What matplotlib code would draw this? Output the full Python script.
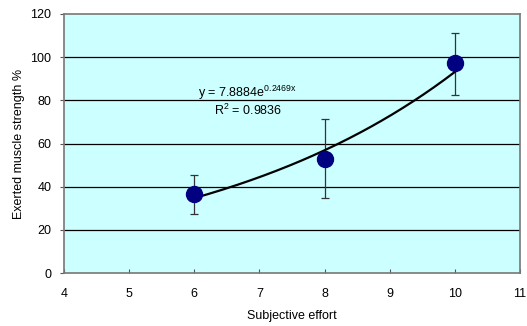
import numpy as np
import matplotlib
matplotlib.use("Agg")
import matplotlib.pyplot as plt

plt.rcParams['font.family'] = ['Liberation Sans', 'DejaVu Sans']
plt.rcParams['mathtext.fontset'] = 'custom'
plt.rcParams['mathtext.rm'] = 'Liberation Sans'

effort = [6, 8, 10]
strength = [36.5, 53.0, 97.2]
err_low = [27.2, 34.6, 82.5]
err_high = [45.3, 71.2, 111.0]
fit_a = 7.8884
fit_b = 0.2469
xticks = [4, 5, 6, 7, 8, 9, 10, 11]
yticks = [0, 20, 40, 60, 80, 100, 120]

fig = plt.figure(figsize=(5.27, 3.26), dpi=100)
ax = fig.add_axes([64/527, 1 - 273/326, (520-64)/527, (273-14)/326])
ax.set_facecolor('#CCFFFF')

for y in yticks[1:-1]:
    ax.axhline(y, color='black', lw=0.9, zorder=1)

yerr = [np.array(strength) - np.array(err_low), np.array(err_high) - np.array(strength)]
ax.errorbar(effort, strength, yerr=yerr, fmt='none', ecolor='#333333', elinewidth=0.9,
            capsize=3, capthick=0.9, zorder=2)

xf = np.linspace(effort[0], effort[-1], 200)
ax.plot(xf, fit_a * np.exp(fit_b * xf), color='black', lw=1.6, zorder=3)

ax.plot(effort, strength, 'o', color='#000080', markersize=11.5, zorder=4)

ax.set_xlim(4, 11)
ax.set_ylim(0, 120)
ax.set_xticks(xticks)
ax.set_yticks(yticks)
ax.tick_params(axis='x', direction='in', length=3, labelsize=9, pad=11, color='#555555')
ax.tick_params(axis='y', direction='out', length=3, labelsize=9, pad=6, color='#555555')
for s in ax.spines.values():
    s.set_color('#777777')
    s.set_linewidth(1.2)

ax.set_xlabel('Subjective effort', fontsize=9, labelpad=7)
ax.set_ylabel('Exerted muscle strength %', fontsize=9, labelpad=4)

ax.text(6.05, 81.5, r'y = 7.8884e$^{\mathrm{0.2469x}}$', fontsize=9)
ax.text(6.3, 73.0, r'R$^{\mathrm{2}}$ = 0.9836', fontsize=9)

fig.savefig('out.png', dpi=100)
